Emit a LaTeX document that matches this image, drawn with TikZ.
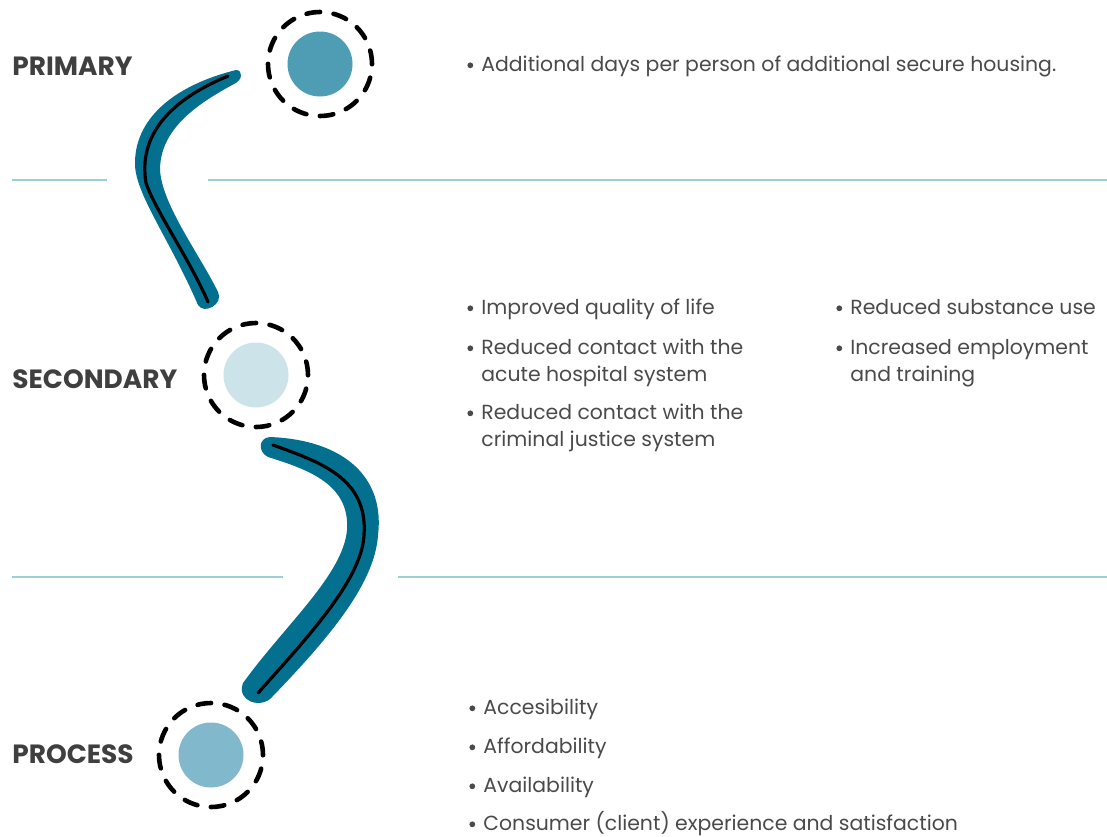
\documentclass[tikz,border=0pt]{standalone}
\usepackage{fontspec}
\setmainfont{Poppins}
\usetikzlibrary{positioning}
\definecolor{boomblue}{HTML}{03708F}
\definecolor{ruleblue}{HTML}{9CCFD8}
\definecolor{labgrey}{HTML}{3F3F3F}
\definecolor{txtgrey}{HTML}{4A4A4A}
\definecolor{primfill}{HTML}{4E9DB5}
\definecolor{secfill}{HTML}{CCE3EA}
\definecolor{procfill}{HTML}{82B8CB}
\newcommand{\itm}[1]{\makebox[7pt][l]{\raisebox{1.4pt}{\tikz\fill[txtgrey] (0,0) circle (1.45pt);}}\begin{tabular}[t]{@{}l@{}}#1\end{tabular}}
\begin{document}
\begin{tikzpicture}[x=0.5pt,y=-0.5pt,
  tierlabel/.style={anchor=base west,inner sep=0,text=labgrey,font=\fontsize{13.2}{15}\selectfont\bfseries},
  item/.style={anchor=base west,inner sep=0,text=txtgrey,font=\fontsize{10.2}{13.5}\selectfont},
  ring/.style={circle,draw=black,line width=2.3pt,dash pattern=on 6.8pt off 6.8pt,line cap=round,minimum size=52pt,inner sep=0},
  dot/.style={circle,minimum size=32.5pt,inner sep=0},
  rule/.style={draw=ruleblue,line width=0.7pt}]
\useasboundingbox (0,0) rectangle (1107,836);
\draw[rule] (12,180)--(107,180); \draw[rule] (208,180)--(1107,180);
\draw[rule] (12,577)--(283,577); \draw[rule] (398,577)--(1107,577);
\node[tierlabel] (prim) at (12,75) {PRIMARY};
\node[tierlabel] (sec) at (12,388) {SECONDARY};
\node[tierlabel] (proc) at (12,763) {PROCESS};
\node[ring] (primring) at (320,64) {}; \node[dot,fill=primfill] (primdot) at (primring) {};
\node[ring] (secring) at (256,375) {}; \node[dot,fill=secfill] (secdot) at (secring) {};
\node[ring] (procring) at (211,755) {}; \node[dot,fill=procfill] (procdot) at (procring) {};
\fill[boomblue] (236,70) .. controls (172,86) and (134,120) .. (135,165) .. controls (136,195) and (170,240) .. (198,305)
  .. controls (204,315) and (224,304) .. (218,292) .. controls (200,255) and (162,205) .. (160,170)
  .. controls (160,130) and (195,105) .. (234,84) .. controls (243,80) and (243,70) .. (236,70) -- cycle;
\draw[line width=1.6pt,line cap=round] (228,76) .. controls (170,100) and (138,135) .. (146,183) .. controls (155,210) and (190,260) .. (208,302);
\fill[boomblue] (270,437) .. controls (345,440) and (385,478) .. (378,535) .. controls (375,582) and (332,635) .. (272,697)
  .. controls (262,709) and (236,702) .. (243,683) .. controls (285,625) and (343,575) .. (347,530)
  .. controls (350,485) and (310,470) .. (268,457) .. controls (258,452) and (258,438) .. (270,437) -- cycle;
\draw[line width=1.6pt,line cap=round] (273,445) .. controls (320,462) and (368,478) .. (364,535) .. controls (362,580) and (305,640) .. (258,693);
\node[item] (p1) at (467,71) {\itm{Additional days per person of additional secure housing.}};
\node[item] (s1) at (467,314) {\itm{Improved quality of life}};
\node[item] (s2) at (467,354) {\itm{Reduced contact with the\\acute hospital system}};
\node[item] (s3) at (467,419) {\itm{Reduced contact with the\\criminal justice system}};
\node[item] (s4) at (836,314) {\itm{Reduced substance use}};
\node[item] (s5) at (836,354) {\itm{Increased employment\\and training}};
\foreach \t/\y [count=\i] in {Accesibility/714,Affordability/753,Availability/792,Consumer (client) experience and satisfaction/830}
  {\node[item] (q\i) at (469,\y) {\itm{\t}};}
\end{tikzpicture}
\end{document}
